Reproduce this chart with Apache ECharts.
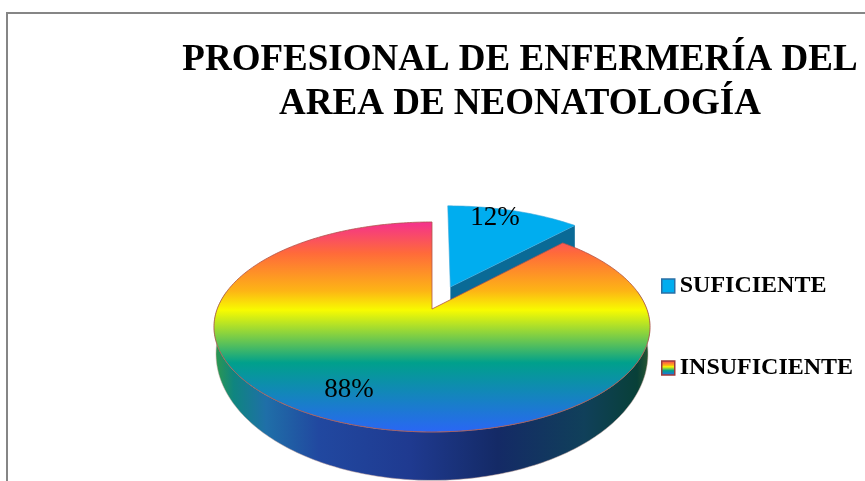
<!DOCTYPE html>
<html>
<head>
<meta charset="utf-8">
<style>
html, body { margin: 0; padding: 0; background: #fff; }
#chart { width: 865px; height: 481px; }
</style>
<script src="https://cdn.jsdelivr.net/npm/echarts@6/dist/echarts.min.js"></script>
</head>
<body>
<div id="chart"></div>
<script>
const titleLines = ["PROFESIONAL DE ENFERMERÍA DEL", "AREA DE NEONATOLOGÍA"];
const categories = ["SUFICIENTE", "INSUFICIENTE"];
const values = [12, 88];

const font = "'Liberation Serif', 'Times New Roman', serif";
const blue = "#00adef";
const topGradient = {
    type: "linear", x: 0, y: 0, x2: 0, y2: 1,
    colorStops: [
        { offset: 0, color: "#f4308f" },
        { offset: 0.15, color: "#ff6a3a" },
        { offset: 0.33, color: "#fdb515" },
        { offset: 0.42, color: "#f8fb00" },
        { offset: 0.67, color: "#00a08c" },
        { offset: 1, color: "#2a66f5" },
    ],
};
const wallGradient = {
    type: "linear", x: 0, y: 0, x2: 1, y2: 0,
    colorStops: [
        { offset: 0, color: "#2f9a4a" },
        { offset: 0.046, color: "#0f8580" },
        { offset: 0.12, color: "#1f6fa8" },
        { offset: 0.24, color: "#2148a0" },
        { offset: 0.45, color: "#1f3a90" },
        { offset: 0.65, color: "#142a66" },
        { offset: 0.85, color: "#10405a" },
        { offset: 0.97, color: "#084038" },
        { offset: 1, color: "#2d5a30" },
    ],
};

// perspective of the tilted disc, fitted on the picture
const persp = 0.171;
const topFace = { x: 432, y: 309, sx: 214.8, sy: 101.9 };
const lowFace = { x: 432, y: 332, sx: 212.8, sy: 123 };
const explode = 0.241;

// clockwise from 12 o'clock, in degrees
const project = (deg, radius, shift, face) => {
    const a = (deg * Math.PI) / 180;
    const wx = Math.sin(a) * radius + shift[0];
    const wy = Math.cos(a) * radius + shift[1];
    const d = 1 + persp * wy;
    return [face.x + (face.sx * wx) / d, face.y - (face.sy * wy) / d];
};
const arc = (from, to, shift, face) => {
    const pts = [];
    const n = Math.ceil(Math.abs(to - from));
    for (let i = 0; i <= n; i++) {
        pts.push(project(from + ((to - from) * i) / n, 1, shift, face));
    }
    return pts;
};
const poly = (points, style, z2) => ({
    type: "polygon",
    shape: { points },
    style,
    z2,
});
const label = (text, x, y) => ({
    type: "text",
    x,
    y,
    z2: 10,
    style: {
        text,
        font: "27px " + font,
        fill: "#000",
        align: "center",
        verticalAlign: "middle",
    },
});

const total = values.reduce((a, b) => a + b, 0);

const renderSmall = (params, api) => {
    const sweep = (api.value(0) / total) * 360;
    const mid = (sweep / 2) * (Math.PI / 180);
    const shift = [Math.sin(mid) * explode, Math.cos(mid) * explode];
    const centre = project(0, 0, shift, topFace);
    const corner = project(sweep, 1, shift, topFace);
    // the lower edge of this wall sits behind the big slice
    const wall = [centre, corner, [corner[0], corner[1] + 25], [centre[0], centre[1] + 14]];
    return {
        type: "group",
        children: [
            poly(wall, { fill: "#0a6a96" }, 1),
            poly([centre].concat(arc(0, sweep, shift, topFace)), { fill: blue, stroke: "#3aa6d8", lineWidth: 0.6 }, 2),
            label(api.value(0) + "%", 495, 218),
        ],
    };
};

const renderBig = (params, api) => {
    const sweep = (api.value(0) / total) * 360;
    const none = [0, 0];
    const start = 360 - sweep;
    return {
        type: "group",
        children: [
            poly(arc(80, 280, none, topFace).concat(arc(280, 80, none, lowFace)), { fill: wallGradient, stroke: "#c9a8a0", lineWidth: 0.5 }, 3),
            poly([project(0, 0, none, topFace)].concat(arc(start, 360, none, topFace)), { fill: topGradient, stroke: "#b0564a", lineWidth: 0.8 }, 4),
            label(api.value(0) + "%", 349, 390),
        ],
    };
};

const chart = echarts.init(document.getElementById("chart"), null, { renderer: "canvas" });
chart.setOption({
    animation: false,
    backgroundColor: "#fff",
    title: {
        text: titleLines.join("\n"),
        left: 515,
        top: 33,
        textAlign: "center",
        textStyle: {
            fontFamily: font,
            fontSize: 37,
            fontWeight: "bold",
            color: "#000",
            lineHeight: 44,
        },
    },
    legend: {
        orient: "vertical",
        left: 661,
        top: 274,
        padding: 0,
        itemWidth: 13,
        itemHeight: 14,
        itemGap: 58,
        icon: "rect",
        selectedMode: false,
        textStyle: {
            fontFamily: font,
            fontSize: 24,
            fontWeight: "bold",
            color: "#000",
            padding: [1, 0, 0, 0],
        },
        data: [
            { name: categories[0], itemStyle: { color: blue, borderColor: "#2a6fa5", borderWidth: 1.5 } },
            { name: categories[1], itemStyle: { color: topGradient, borderColor: "#9c3a3a", borderWidth: 1.5 } },
        ],
    },
    graphic: [
        {
            type: "polyline",
            silent: true,
            shape: { points: [[7, 490], [7, 13], [870, 13]] },
            style: { stroke: "#868686", lineWidth: 2, fill: null },
        },
    ],
    series: [
        { type: "custom", name: categories[0], coordinateSystem: "none", clip: false, renderItem: renderSmall, data: [values[0]] },
        { type: "custom", name: categories[1], coordinateSystem: "none", clip: false, renderItem: renderBig, data: [values[1]] },
    ],
});
</script>
</body>
</html>
